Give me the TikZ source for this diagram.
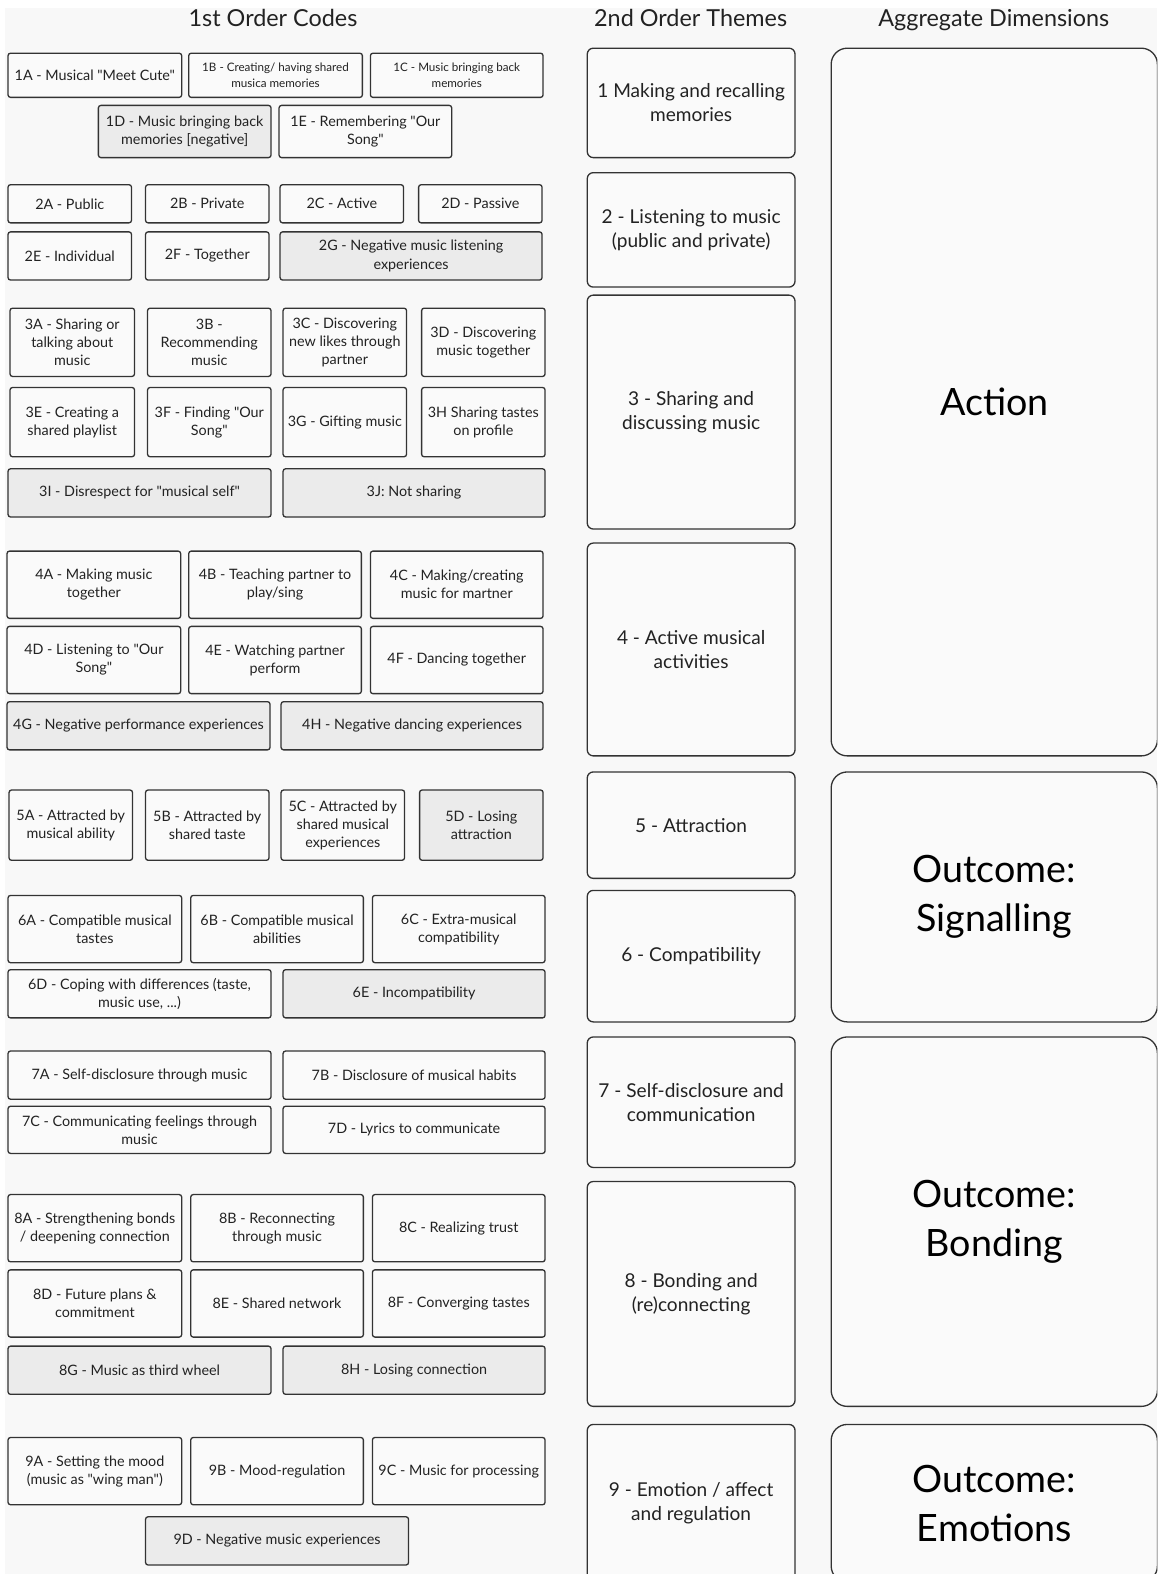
\documentclass[tikz,border=0pt]{standalone}
\usepackage{fontspec}
\setmainfont{Lato}[Ligatures=TeXOff]
\definecolor{bd}{HTML}{333333}
\definecolor{tx}{HTML}{222222}
\definecolor{bw}{HTML}{FAFAFA}
\definecolor{bgg}{HTML}{EBEBEB}
\definecolor{pg}{HTML}{F8F8F8}
\newcommand\bx[7]{\node[#1, minimum width={#4-#3}, minimum height={#6-#5}] (#2) at ({(#3+#4)/2},{(#5+#6)/2}) {#7};}
\tikzset{
  codebox/.style={draw=bd, line width=1.3pt, rounded corners=2.5pt, fill=bw, align=center, inner sep=0pt, text=tx, font=\fontsize{14.3}{18}\selectfont},
  negbox/.style={codebox, fill=bgg},
  smalltext/.style={font=\fontsize{11.6}{15}\selectfont},
  themebox/.style={draw=bd, line width=1.3pt, rounded corners=6pt, fill=bw, align=center, inner sep=0pt, text=tx, font=\fontsize{19}{24}\selectfont},
  aggbox/.style={draw=bd, line width=1.3pt, rounded corners=16pt, fill=bw, align=center, inner sep=0pt, text=black, font=\fontsize{37.5}{49}\selectfont},
  headtext/.style={text=tx, font=\fontsize{23.3}{27}\selectfont, inner sep=0pt, anchor=base}
}
\begin{document}
\begin{tikzpicture}[x=1pt,y=-1pt]
\useasboundingbox (0,0) rectangle (1153,1568);
\clip (0,0) rectangle (1153,1568);
\fill[white] (0,0) rectangle (1153,1568);
\fill[pg] (5,8) rectangle (1153,1568);
% headers
\node[headtext] (h1) at (272,26) {1st Order Codes};
\node[headtext] (h2) at (688,26) {2nd Order Themes};
\node[headtext] (h3) at (990,26) {Aggregate Dimensions};
% group 1
\bx{codebox}{c1A}{8}{181}{53}{97}{1A - Musical "Meet Cute"}
\bx{codebox,smalltext}{c1B}{188}{361}{53}{97}{1B - Creating/ having shared\\musica memories}
\bx{codebox,smalltext}{c1C}{369}{541}{53}{97}{1C - Music bringing back\\memories}
\bx{negbox}{c1D}{98}{270}{105}{157}{1D - Music bringing back\\memories [negative]}
\bx{codebox}{c1E}{278}{450}{105}{157}{1E - Remembering "Our\\Song"}
% group 2
\bx{codebox}{c2A}{8}{131}{184}{222}{2A - Public}
\bx{codebox}{c2B}{145}{268}{184}{222}{2B - Private}
\bx{codebox}{c2C}{279}{402}{184}{222}{2C - Active}
\bx{codebox}{c2D}{417}{540}{184}{222}{2D - Passive}
\bx{codebox}{c2E}{8}{131}{231}{279}{2E - Individual}
\bx{codebox}{c2F}{145}{268}{231}{279}{2F - Together}
\bx{negbox}{c2G}{279}{540}{231}{279}{2G - Negative music listening\\experiences}
% group 3
\bx{codebox}{c3A}{10}{134}{307}{375}{3A - Sharing or\\talking about\\music}
\bx{codebox}{c3B}{147}{270}{307}{375}{3B -\\Recommending\\music}
\bx{codebox}{c3C}{282}{405}{307}{375}{3C - Discovering\\new likes through\\partner}
\bx{codebox}{c3D}{420}{543}{307}{375}{3D - Discovering\\music together}
\bx{codebox}{c3E}{10}{134}{386}{455}{3E - Creating a\\shared playlist}
\bx{codebox}{c3F}{147}{270}{386}{455}{3F - Finding "Our\\Song"}
\bx{codebox}{c3G}{282}{405}{386}{455}{3G - Gifting music}
\bx{codebox}{c3H}{420}{543}{386}{455}{3H Sharing tastes\\on profile}
\bx{negbox}{c3I}{8}{270}{467}{515}{3I - Disrespect for "musical self"}
\bx{negbox}{c3J}{282}{543}{467}{515}{3J: Not sharing}
% group 4
\bx{codebox}{c4A}{7}{180}{549}{616}{4A - Making music\\together}
\bx{codebox}{c4B}{188}{360}{549}{616}{4B - Teaching partner to\\play/sing}
\bx{codebox}{c4C}{369}{541}{549}{616}{4C - Making/creating\\music for martner}
\bx{codebox}{c4D}{7}{180}{624}{691}{4D - Listening to "Our\\Song"}
\bx{codebox}{c4E}{188}{360}{624}{691}{4E - Watching partner\\perform}
\bx{codebox}{c4F}{369}{541}{624}{691}{4F - Dancing together}
\bx{negbox}{c4G}{7}{269}{699}{747}{4G - Negative performance experiences}
\bx{negbox}{c4H}{280}{541}{699}{747}{4H - Negative dancing experiences}
% group 5
\bx{codebox}{c5A}{9}{132}{787}{857}{5A - Attracted by\\musical ability}
\bx{codebox}{c5B}{145}{268}{787}{857}{5B - Attracted by\\shared taste}
\bx{codebox}{c5C}{280}{403}{787}{857}{5C - Attracted by\\shared musical\\experiences}
\bx{negbox}{c5D}{418}{541}{787}{857}{5D - Losing\\attraction}
% group 6
\bx{codebox}{c6A}{8}{181}{892}{959}{6A - Compatible musical\\tastes}
\bx{codebox}{c6B}{190}{362}{892}{959}{6B - Compatible musical\\abilities}
\bx{codebox}{c6C}{371}{543}{892}{959}{6C - Extra-musical\\compatibility}
\bx{codebox}{c6D}{8}{270}{966}{1014}{6D - Coping with differences (taste,\\music use, ...)}
\bx{negbox}{c6E}{282}{543}{966}{1014}{6E - Incompatibility}
% group 7
\bx{codebox}{c7A}{8}{270}{1047}{1095}{7A - Self-disclosure through music}
\bx{codebox}{c7B}{282}{543}{1047}{1095}{7B - Disclosure of musical habits}
\bx{codebox}{c7C}{8}{270}{1102}{1149}{7C - Communicating feelings through\\music}
\bx{codebox}{c7D}{282}{543}{1102}{1149}{7D - Lyrics to communicate}
% group 8
\bx{codebox}{c8A}{8}{181}{1190}{1257}{8A - Strengthening bonds\\/ deepening connection}
\bx{codebox}{c8B}{190}{362}{1190}{1257}{8B - Reconnecting\\through music}
\bx{codebox}{c8C}{371}{543}{1190}{1257}{8C - Realizing trust}
\bx{codebox}{c8D}{8}{181}{1265}{1332}{8D - Future plans \&\\commitment}
\bx{codebox}{c8E}{190}{362}{1265}{1332}{8E - Shared network}
\bx{codebox}{c8F}{371}{543}{1265}{1332}{8F - Converging tastes}
\bx{negbox}{c8G}{8}{270}{1341}{1389}{8G - Music as third wheel}
\bx{negbox}{c8H}{282}{543}{1341}{1389}{8H - Losing connection}
% group 9
\bx{codebox}{c9A}{8}{181}{1432}{1499}{9A - Setting the mood\\(music as "wing man")}
\bx{codebox}{c9B}{190}{362}{1432}{1499}{9B - Mood-regulation}
\bx{codebox}{c9C}{371}{543}{1432}{1499}{9C - Music for processing}
\bx{negbox}{c9D}{145}{407}{1511}{1559}{9D - Negative music experiences}
% themes
\bx{themebox}{t1}{585}{792}{48}{157}{1 Making and recalling\\memories}
\bx{themebox}{t2}{585}{792}{172}{286}{2 - Listening to music\\(public and private)}
\bx{themebox}{t3}{585}{792}{294}{527}{3 - Sharing and\\discussing music}
\bx{themebox}{t4}{585}{792}{541}{753}{4 - Active musical\\activities}
\bx{themebox}{t5}{585}{792}{769}{875}{5 - Attraction}
\bx{themebox}{t6}{585}{792}{887}{1018}{6 - Compatibility}
\bx{themebox}{t7}{585}{792}{1033}{1163}{7 - Self-disclosure and\\communication}
\bx{themebox}{t8}{585}{792}{1177}{1401}{8 - Bonding and\\(re)connecting}
\bx{themebox}{t9}{585}{792}{1419}{1576}{9 - Emotion / affect\\and regulation}
% aggregate dimensions
\bx{aggbox}{a1}{828}{1153}{48}{753}{Action}
\bx{aggbox}{a2}{828}{1153}{769}{1018}{Outcome:\\Signalling}
\bx{aggbox}{a3}{828}{1153}{1033}{1401}{Outcome:\\Bonding}
\bx{aggbox}{a4}{828}{1153}{1419}{1576}{Outcome:\\Emotions}
\end{tikzpicture}
\end{document}
